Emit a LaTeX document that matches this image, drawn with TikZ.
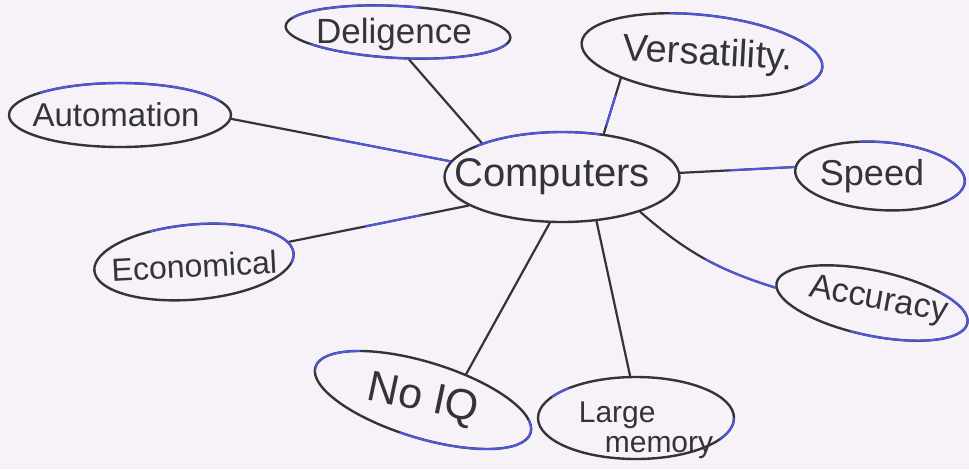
\documentclass[tikz,border=0pt]{standalone}
\usepackage{fontspec}
\setmainfont{Liberation Sans}
\usetikzlibrary{shapes.geometric,calc}
\definecolor{paper}{RGB}{246,242,247}
\definecolor{pencil}{RGB}{52,52,56}
\definecolor{inkblue}{RGB}{78,88,222}
\newcommand{\myfs}[1]{\fontsize{#1}{#1}\selectfont}
\begin{document}
\begin{tikzpicture}[x=1pt,y=-1pt,
  bubble/.style={draw=pencil, line width=2.4pt, ellipse, inner sep=0pt},
  link/.style={draw=pencil, line width=2.2pt, line cap=round},
  blueink/.style={draw=inkblue, line width=2pt, line cap=round},
  lbl/.style={text=pencil, inner sep=0pt}]
\fill[paper] (0,0) rectangle (969,469);
\useasboundingbox (0,0) rectangle (969,469);

% nodes
\node[bubble, minimum width=235, minimum height=90,
  label={[lbl, font=\myfs{40}, xshift=-10pt]center:Computers}] (comp) at (562,177) {};
\node[bubble, minimum width=225, minimum height=52, rotate=-3,
  label={[lbl, font=\myfs{35}, xshift=-4pt, yshift=-2pt]center:Deligence}] (deli) at (398,32) {};
\node[bubble, minimum width=242, minimum height=80, rotate=-6,
  label={[lbl, font=\myfs{38}, rotate=-3, xshift=6pt]center:Versatility.}] (vers) at (702,55) {};
\node[bubble, minimum width=222, minimum height=64,
  label={[lbl, font=\myfs{33}, xshift=-4pt]center:Automation}] (auto) at (120,115) {};
\node[bubble, minimum width=170, minimum height=68, rotate=-4,
  label={[lbl, font=\myfs{36}, xshift=-8pt]center:Speed}] (speed) at (880,176) {};
\node[bubble, minimum width=200, minimum height=75, rotate=5,
  label={[lbl, font=\myfs{32}, rotate=3, yshift=-4pt]center:Economical}] (econ) at (194,262) {};
\node[bubble, minimum width=195, minimum height=65, rotate=-12,
  label={[lbl, font=\myfs{34}, rotate=-10, xshift=6pt, yshift=3pt]center:Accuracy}] (accu) at (872,303) {};
\node[bubble, minimum width=225, minimum height=76, rotate=-17,
  label={[lbl, font=\myfs{43}, rotate=-12]center:No IQ}] (noiq) at (423,400) {};
\node[bubble, minimum width=196, minimum height=82,
  label={[lbl, font=\myfs{30}, align=left, xshift=10pt, yshift=-12pt]center:Large\\\hspace*{26pt}memory}] (large) at (636,418) {};

% connectors
\draw[link] (comp.157) -- (deli.-65);
\draw[link] (comp.46) -- (vers.202);
\draw[link] (comp.172) -- (auto.-2);
\draw[link] (comp.2) -- (speed.178);
\draw[link] (comp.197) -- (econ.7);
\draw[link] (comp.-24) to[bend right=12] (accu.183);
\draw[link] (comp.255) -- (noiq.48);
\draw[link] (comp.-52) -- (large.98);

% blue ink on connectors
\begin{scope}
  \clip (330,100) rectangle (455,175);
  \draw[blueink] (comp.172) -- (auto.-2);
\end{scope}
\begin{scope}
  \clip (730,160) rectangle (800,195);
  \draw[blueink] (comp.2) -- (speed.178);
\end{scope}
\begin{scope}
  \clip (705,235) rectangle (790,300);
  \draw[blueink] (comp.-24) to[bend right=12] (accu.183);
\end{scope}
\begin{scope}
  \clip (595,95) rectangle (620,125);
  \draw[blueink] (comp.46) -- (vers.202);
\end{scope}
\begin{scope}
  \clip (365,215) rectangle (425,240);
  \draw[blueink] (comp.197) -- (econ.7);
\end{scope}

% blue ink on outlines
\begin{scope}
  \clip (475,120) rectangle (600,145);
  \draw[blueink] (comp.center) ellipse [x radius=117.5, y radius=45];
\end{scope}
\begin{scope}
  \clip (300,44) rectangle (515,70) (290,0) rectangle (420,18);
  \draw[blueink, rotate around={-3:(deli.center)}] (deli.center) ellipse [x radius=112.5, y radius=26];
\end{scope}
\begin{scope}
  \clip (670,5) rectangle (830,85);
  \draw[blueink, rotate around={-6:(vers.center)}] (vers.center) ellipse [x radius=121, y radius=40];
\end{scope}
\begin{scope}
  \clip (40,76) rectangle (230,100);
  \draw[blueink] (auto.center) ellipse [x radius=111, y radius=32];
\end{scope}
\begin{scope}
  \clip (860,130) rectangle (969,200);
  \draw[blueink, rotate around={-4:(speed.center)}] (speed.center) ellipse [x radius=85, y radius=34];
\end{scope}
\begin{scope}
  \clip (150,215) rectangle (300,262);
  \draw[blueink, rotate around={5:(econ.center)}] (econ.center) ellipse [x radius=100, y radius=37.5];
\end{scope}
\begin{scope}
  \clip (850,318) rectangle (969,350) (940,280) rectangle (969,330);
  \draw[blueink, rotate around={-12:(accu.center)}] (accu.center) ellipse [x radius=97.5, y radius=32.5];
\end{scope}
\begin{scope}
  \clip (400,420) rectangle (535,460) (315,345) rectangle (360,372);
  \draw[blueink, rotate around={-17:(noiq.center)}] (noiq.center) ellipse [x radius=112.5, y radius=38];
\end{scope}
\begin{scope}
  \clip (552,388) rectangle (575,410) (720,418) rectangle (740,450);
  \draw[blueink] (large.center) ellipse [x radius=98, y radius=41];
\end{scope}
\end{tikzpicture}
\end{document}
